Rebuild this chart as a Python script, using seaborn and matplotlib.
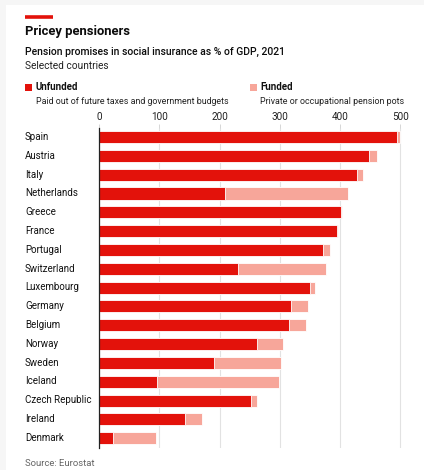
import matplotlib
matplotlib.use("Agg")
import matplotlib.pyplot as plt
import seaborn as sns
import pandas as pd
from matplotlib.patches import Rectangle
from matplotlib.lines import Line2D

countries = ["Spain", "Austria", "Italy", "Netherlands", "Greece", "France", "Portugal",
             "Switzerland", "Luxembourg", "Germany", "Belgium", "Norway", "Sweden",
             "Iceland", "Czech Republic", "Ireland", "Denmark"]
unfunded = [494, 448, 428, 209, 401, 395, 372, 231, 350, 319, 315, 262, 191, 97, 252, 143, 23]
funded = [6, 14, 10, 204, 3, 1, 12, 146, 8, 28, 29, 43, 111, 202, 10, 28, 71]
xticks = [0, 100, 200, 300, 400, 500]

RED = "#e3120b"
PINK = "#f7a69a"

df = pd.DataFrame({"country": countries, "unfunded": unfunded,
                   "total": [u + f for u, f in zip(unfunded, funded)]})

sns.set_theme(style="white")
plt.rcParams["font.family"] = ["Roboto", "DejaVu Sans"]

W, H = 424, 470
fig = plt.figure(figsize=(W / 100, H / 100), dpi=100)
fig.patch.set_facecolor("#f6f6f6")
fig.patches.append(Rectangle((6 / W, 0), 1, 1 - 5 / H, transform=fig.transFigure,
                             facecolor="white", edgecolor="none", zorder=-10))

def fx(px):
    return px / W

def fy(py):
    return 1 - py / H

left, right = 99, 99 + 301.3 * 520 / 500
top, bottom = 127.6, 447.6
ax = fig.add_axes([fx(left), fy(bottom), fx(right - left), (bottom - top) / H])
ax.set_facecolor("none")
ax.set_zorder(5)

sns.barplot(data=df, y="country", x="total", color=PINK, width=0.64,
            edgecolor="white", linewidth=0.6, ax=ax, saturation=1, zorder=3)
sns.barplot(data=df, y="country", x="unfunded", color=RED, width=0.64,
            edgecolor="white", linewidth=0.6, ax=ax, saturation=1, zorder=4)

ax.set_xlim(0, 520)
ax.set_ylim(len(countries) - 0.5, -0.5)
ax.set_xticks(xticks)
ax.xaxis.tick_top()
ax.tick_params(axis="x", which="both", top=True, bottom=False, length=3, width=0.6,
               color="#d0d0d0", labelsize=7.2, labelcolor="#222222", pad=1)
ax.tick_params(axis="y", left=False, length=0, pad=0)
ax.set_yticklabels([])
ax.set_xlabel("")
ax.set_ylabel("")
ax.grid(axis="x", color="#e2e2e2", linewidth=0.8, zorder=0)
ax.set_axisbelow(True)
for s in ["top", "right", "bottom"]:
    ax.spines[s].set_visible(False)
ax.spines["left"].set_color("#222222")
ax.spines["left"].set_linewidth(0.9)
ax.spines["left"].set_zorder(6)

for i, c in enumerate(countries):
    ypx = 137 + i * 18.8
    fig.text(fx(25), fy(ypx), c, ha="left", va="center", fontsize=7.0, color="#111111")

# Header
fig.add_artist(Line2D([fx(25), fx(53)], [fy(17), fy(17)], color=RED, linewidth=2.6,
                      transform=fig.transFigure, solid_capstyle="butt"))
fig.text(fx(25), fy(32), "Pricey pensioners", ha="left", va="center", fontsize=9.4,
         fontweight="bold", color="#0c0c0c")
fig.text(fx(25), fy(52), "Pension promises in social insurance as % of GDP, 2021",
         ha="left", va="center", fontsize=7.5, fontweight="medium", color="#0c0c0c")
fig.text(fx(25), fy(66), "Selected countries", ha="left", va="center", fontsize=7.3,
         color="#222222")

# Legend
fig.patches.append(Rectangle((fx(25), fy(91)), 7 / W, 7 / H, transform=fig.transFigure,
                             facecolor=RED, edgecolor="none"))
fig.text(fx(36), fy(87), "Unfunded", ha="left", va="center", fontsize=7.0,
         fontweight="bold", color="#111111")
fig.text(fx(36), fy(101), "Paid out of future taxes and government budgets", ha="left",
         va="center", fontsize=6.4, color="#222222")
fig.patches.append(Rectangle((fx(250), fy(91)), 7 / W, 7 / H, transform=fig.transFigure,
                             facecolor=PINK, edgecolor="none"))
fig.text(fx(260), fy(87), "Funded", ha="left", va="center", fontsize=7.0,
         fontweight="bold", color="#111111")
fig.text(fx(260), fy(101), "Private or occupational pension pots", ha="left",
         va="center", fontsize=6.4, color="#222222")

fig.text(fx(25), fy(463), "Source: Eurostat", ha="left", va="center", fontsize=6.8,
         color="#666666")

fig.savefig("out.png", dpi=100, facecolor=fig.get_facecolor())
